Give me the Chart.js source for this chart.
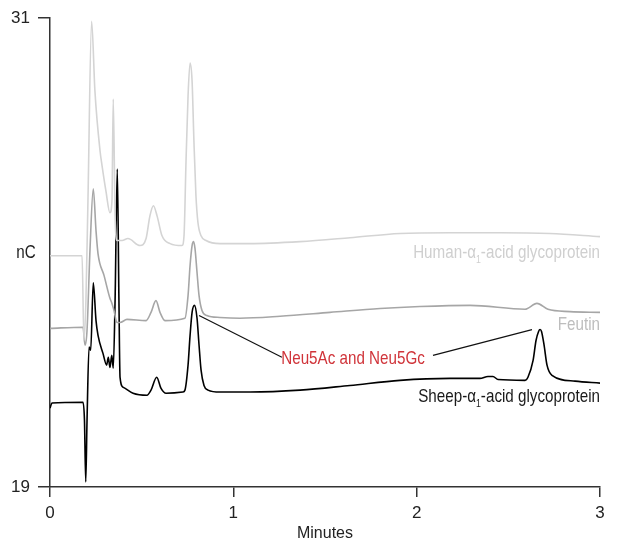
<!DOCTYPE html>
<html>
<head>
<meta charset="utf-8">
<script src="https://cdn.jsdelivr.net/npm/chart.js@4/dist/chart.umd.min.js"></script>
<style>
  html, body { margin: 0; padding: 0; background: #fff; }
  #chromatogram { display: block; }
</style>
</head>
<body>
<canvas id="chromatogram" width="621" height="545"></canvas>
<script>
// retention time (min) and response (nC)
const humanTime = [0, 0.175, 0.185, 0.196, 0.207, 0.227, 0.245, 0.273, 0.284, 0.305, 0.327, 0.338, 0.345, 0.355, 0.365,
  0.393, 0.425, 0.491, 0.524, 0.545, 0.564, 0.584, 0.611, 0.655, 0.72, 0.731, 0.742, 0.753, 0.764, 0.775, 0.785,
  0.796, 0.807, 0.824, 0.851, 0.927, 1.09, 1.364, 1.636, 1.909, 2.182, 2.455, 2.727, 3.0];
const humanNc = [24.92, 24.92, 22.75, 23.78, 26.33, 30.92, 29.14, 27.6, 27.22, 26.58, 26.02, 26.33, 28.93, 25.94, 25.31,
  25.31, 25.36, 25.18, 25.36, 25.94, 26.2, 25.94, 25.43, 25.23, 25.18, 25.43, 27.35, 29.01, 29.85, 29.39, 27.86,
  26.46, 25.77, 25.43, 25.31, 25.23, 25.23, 25.28, 25.38, 25.49, 25.51, 25.51, 25.49, 25.41];

const feutinTime = [0, 0.18, 0.191, 0.202, 0.218, 0.236, 0.251, 0.262, 0.295, 0.327, 0.338, 0.349, 0.365, 0.382, 0.42,
  0.524, 0.551, 0.578, 0.6, 0.627, 0.736, 0.753, 0.764, 0.775, 0.783, 0.791, 0.802, 0.813, 0.829, 0.856, 0.927,
  1.036, 1.255, 1.527, 1.8, 2.018, 2.291, 2.591, 2.656, 2.716, 2.836, 3.0];
const feutinNc = [23.06, 23.09, 22.63, 23.01, 25.05, 26.63, 25.56, 24.97, 24.41, 23.83, 23.7, 23.52, 23.21, 23.21, 23.29,
  23.26, 23.47, 23.77, 23.47, 23.26, 23.32, 23.9, 24.67, 25.18, 25.28, 25.1, 24.49, 23.9, 23.52, 23.39, 23.34,
  23.32, 23.37, 23.47, 23.57, 23.62, 23.65, 23.55, 23.7, 23.55, 23.49, 23.47];

const sheepTime = [0, 0.011, 0.18, 0.188, 0.195, 0.202, 0.213, 0.222, 0.236, 0.251, 0.262, 0.289, 0.309, 0.318, 0.327,
  0.337, 0.345, 0.355, 0.367, 0.376, 0.382, 0.4, 0.453, 0.529, 0.551, 0.582, 0.605, 0.633, 0.725, 0.736, 0.753,
  0.764, 0.775, 0.788, 0.802, 0.813, 0.824, 0.84, 0.862, 0.927, 1.091, 1.364, 1.636, 1.909, 2.182, 2.345, 2.389,
  2.416, 2.444, 2.591, 2.607, 2.635, 2.651, 2.665, 2.673, 2.681, 2.695, 2.711, 2.738, 2.864, 3.0];
const sheepNc = [21.02, 21.15, 21.17, 20.71, 19.13, 20.71, 22.58, 22.5, 24.23, 23.26, 22.88, 22.42, 22.12, 22.32, 22.06,
  22.37, 22.04, 23.78, 27.14, 23.78, 21.81, 21.55, 21.4, 21.35, 21.48, 21.81, 21.53, 21.4, 21.43, 21.48, 22.12,
  22.88, 23.47, 23.65, 23.32, 22.63, 21.99, 21.6, 21.48, 21.43, 21.43, 21.48, 21.6, 21.73, 21.78, 21.78, 21.83,
  21.83, 21.75, 21.73, 21.81, 22.24, 22.75, 22.98, 23.03, 22.98, 22.63, 22.12, 21.86, 21.71, 21.66];

const xTicks = [0, 1, 2, 3];
const yTicks = [19, 31];

const FONT = '"Liberation Sans", Arial, sans-serif';
const SQUEEZE = 0.8; // the original uses a condensed face

function toPoints(ts, vs) {
  return ts.map((t, i) => ({ x: t, y: vs[i] }));
}

// condensed text, right aligned at x, with optional subscript parts
function drawLabel(ctx, parts, x, y, color, align) {
  ctx.save();
  ctx.fillStyle = color;
  ctx.textBaseline = 'middle';
  ctx.textAlign = 'left';
  const big = '19px ' + FONT, small = '11px ' + FONT;
  let total = 0;
  parts.forEach(p => { ctx.font = p.sub ? small : big; total += ctx.measureText(p.t).width; });
  const start = align === 'center' ? -total / 2 : -total;
  ctx.translate(x, y);
  ctx.scale(SQUEEZE, 1);
  let cx = start;
  parts.forEach(p => {
    ctx.font = p.sub ? small : big;
    ctx.fillText(p.t, cx, p.sub ? 7 : 0);
    cx += ctx.measureText(p.t).width;
  });
  ctx.restore();
}

const annotations = {
  id: 'annotations',
  afterDatasetsDraw(chart) {
    const { ctx, scales: { x, y } } = chart;
    const right = x.getPixelForValue(3);

    drawLabel(ctx, [{ t: 'Human-\u03b1' }, { t: '1', sub: true }, { t: '-acid glycoprotein' }],
      right, y.getPixelForValue(25.0), '#cfcfcf');
    drawLabel(ctx, [{ t: 'Feutin' }], right, y.getPixelForValue(23.14), '#bdbdbd');
    drawLabel(ctx, [{ t: 'Sheep-\u03b1' }, { t: '1', sub: true }, { t: '-acid glycoprotein' }],
      right, y.getPixelForValue(21.3), '#1a1a1a');

    // leader lines to the sialic acid peaks
    ctx.save();
    ctx.strokeStyle = '#111';
    ctx.lineWidth = 1.2;
    ctx.beginPath();
    ctx.moveTo(x.getPixelForValue(0.813), y.getPixelForValue(23.39));
    ctx.lineTo(x.getPixelForValue(1.265), y.getPixelForValue(22.32));
    ctx.moveTo(x.getPixelForValue(2.089), y.getPixelForValue(22.37));
    ctx.lineTo(x.getPixelForValue(2.629), y.getPixelForValue(23.03));
    ctx.stroke();
    ctx.restore();

    drawLabel(ctx, [{ t: 'Neu5Ac and Neu5Gc' }], x.getPixelForValue(1.653), y.getPixelForValue(22.29), '#d0343a', 'center');

    // unit label sits horizontally beside the axis
    drawLabel(ctx, [{ t: 'nC' }], 26, y.getPixelForValue(25), '#222', 'center');
  }
};

new Chart(document.getElementById('chromatogram'), {
  type: 'line',
  data: {
    datasets: [
      { label: 'Human', data: toPoints(humanTime, humanNc), borderColor: '#d4d4d4' },
      { label: 'Feutin', data: toPoints(feutinTime, feutinNc), borderColor: '#a6a6a6' },
      { label: 'Sheep', data: toPoints(sheepTime, sheepNc), borderColor: '#000' }
    ]
  },
  options: {
    responsive: false,
    animation: false,
    layout: { padding: { top: 17, right: 21, left: 0, bottom: 0 } },
    elements: {
      point: { radius: 0 },
      line: { borderWidth: 1.6, cubicInterpolationMode: 'monotone', fill: false }
    },
    plugins: { legend: { display: false }, tooltip: { enabled: false } },
    scales: {
      x: {
        type: 'linear', min: 0, max: 3,
        afterBuildTicks: s => { s.ticks = xTicks.map(v => ({ value: v })); },
        afterFit: s => { s.height = 58; },
        grid: { drawOnChartArea: false, drawTicks: true, tickLength: 10, color: '#333', lineWidth: 1.5 },
        border: { display: true, color: '#333', width: 1.5 },
        ticks: { color: '#222', padding: 6, font: { family: FONT, size: 17 } },
        title: { display: true, text: 'Minutes', color: '#222', padding: { top: 0, bottom: 2 }, font: { family: FONT, size: 16 } }
      },
      y: {
        type: 'linear', min: 19, max: 31,
        afterBuildTicks: s => { s.ticks = yTicks.map(v => ({ value: v })); },
        afterFit: s => { s.width = 50; },
        grid: { drawOnChartArea: false, drawTicks: true, tickLength: 12, color: '#333', lineWidth: 1.5 },
        border: { display: true, color: '#333', width: 1.5 },
        ticks: { color: '#222', padding: 8, font: { family: FONT, size: 17 } }
      }
    }
  },
  plugins: [annotations]
});
</script>
</body>
</html>
